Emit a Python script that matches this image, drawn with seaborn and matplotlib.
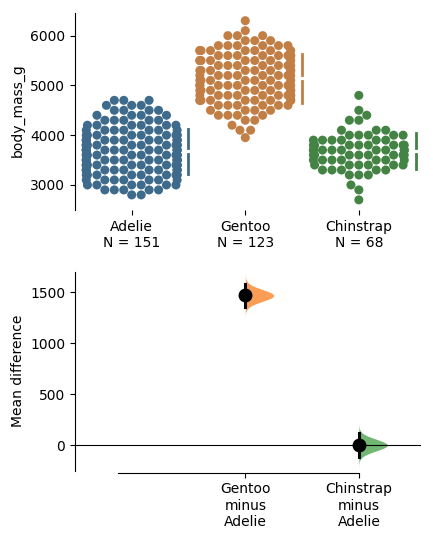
import numpy as np
import pandas as pd
import matplotlib
matplotlib.use("Agg")
import matplotlib.pyplot as plt
import seaborn as sns

species = ["Adelie", "Gentoo", "Chinstrap"]
# body mass rows (grams -> count of points at that level)
adelie_mass = [2800, 2900, 3000, 3100, 3200, 3300, 3400, 3500, 3600, 3700,
               3800, 3900, 4000, 4100, 4200, 4300, 4400, 4500, 4600, 4700]
adelie_count = [2, 5, 6, 7, 9, 11, 12, 12, 11, 12, 12, 11, 9, 7, 6, 5, 4, 4, 3, 3]
gentoo_mass = [3950, 4100, 4200, 4300, 4400, 4500, 4600, 4700, 4800, 4900, 5000, 5100,
               5200, 5300, 5400, 5500, 5600, 5700, 5800, 5900, 6000, 6100, 6300]
gentoo_count = [1, 2, 1, 2, 4, 4, 6, 9, 9, 8, 9, 7, 8, 8, 7, 8, 8, 8, 6, 3, 3, 1, 1]
chin_mass = [2700, 2900, 3000, 3200, 3300, 3400, 3500, 3600, 3700, 3800, 3900,
             4000, 4100, 4300, 4400, 4500, 4800]
chin_count = [1, 1, 1, 3, 5, 6, 7, 8, 9, 8, 6, 5, 3, 2, 1, 1, 1]

colors = ["#3e6a8c", "#c27f45", "#438343"]
diff_colors = ["#fb8d37", "#58ab5a"]

groups = {
    "Adelie": np.repeat(adelie_mass, adelie_count),
    "Gentoo": np.repeat(gentoo_mass, gentoo_count),
    "Chinstrap": np.repeat(chin_mass, chin_count),
}
df = pd.concat([pd.DataFrame({"species": k, "body_mass_g": v}) for k, v in groups.items()])

fig = plt.figure(figsize=(4.33, 5.38), dpi=100)
ax1 = fig.add_axes([0.173, 0.61, 0.80, 0.37])
ax2 = fig.add_axes([0.173, 0.125, 0.80, 0.37])

sns.swarmplot(data=df, x="species", y="body_mass_g", hue="species", palette=colors,
              order=species, size=6.5, ax=ax1, legend=False)
for i, s in enumerate(species):
    v = groups[s]
    m, sd = v.mean(), v.std()
    x = i + 0.5
    ax1.plot([x, x], [m - sd, m - 60], color=colors[i], lw=2)
    ax1.plot([x, x], [m + 60, m + sd], color=colors[i], lw=2)
ax1.set_xlim(-0.5, 2.55)
ax1.set_ylim(2500, 6500)
ax1.set_yticks([3000, 4000, 5000, 6000])
ax1.set_xticks(range(3))
ax1.set_xticklabels([f"{s}\nN = {len(groups[s])}" for s in species])
ax1.set_xlabel("")
sns.despine(ax=ax1, bottom=True)
ax1.spines["left"].set_bounds(2500, 6450)

# mean differences vs Adelie with normal-approximation sampling curve
ref = groups["Adelie"]
for j, s in enumerate(["Gentoo", "Chinstrap"]):
    v = groups[s]
    d = v.mean() - ref.mean()
    se = np.sqrt(v.var(ddof=1) / len(v) + ref.var(ddof=1) / len(ref))
    yy = np.linspace(d - 4 * se, d + 4 * se, 200)
    pdf = np.exp(-0.5 * ((yy - d) / se) ** 2)
    pdf = pdf / pdf.max() * 0.25
    x = j + 1
    ax2.fill_betweenx(yy, x, x + pdf, color=diff_colors[j], alpha=0.85, lw=0)
    ax2.plot([x, x], [d - 1.96 * se, d + 1.96 * se], color="black", lw=2.2)
    ax2.plot(x, d, "o", color="black", ms=9)
ax2.axhline(0, color="black", lw=0.8)
ax2.set_xlim(-0.5, 2.55)
ax2.set_ylim(-250, 1700)
ax2.set_yticks([0, 500, 1000, 1500])
ax2.set_xticks([1, 2])
ax2.set_xticklabels(["Gentoo\nminus\nAdelie", "Chinstrap\nminus\nAdelie"])
ax2.set_ylabel("Mean difference")
sns.despine(ax=ax2)
ax2.spines["bottom"].set_position(("outward", 0))
ax2.spines["bottom"].set_bounds(-0.12, 2)
ax2.set_ylim(-250, 1700)
ax2.spines["bottom"].set_position(("data", -250))
fig.canvas.draw()
ax2.spines["bottom"].set_position(("axes", -0.01))

fig.savefig("out.png", dpi=100)
